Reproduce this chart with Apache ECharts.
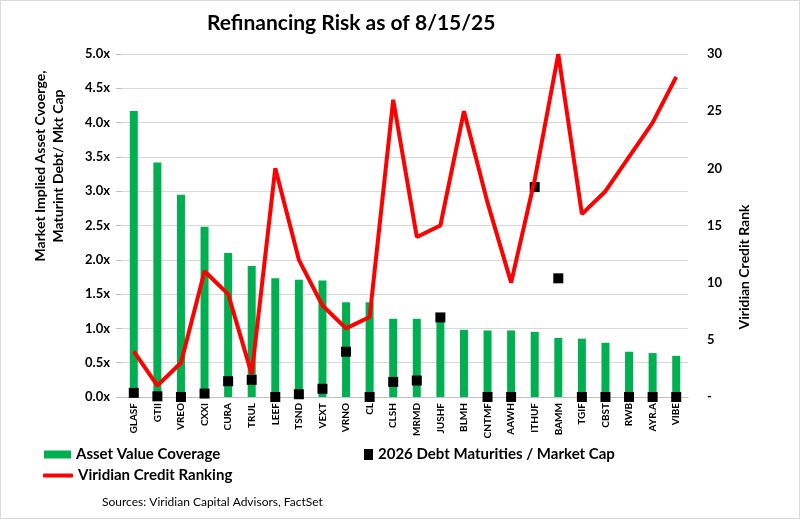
<!DOCTYPE html>
<html><head><meta charset="utf-8">
<script src="https://cdn.jsdelivr.net/npm/echarts@6/dist/echarts.min.js"></script>
<style>html,body{margin:0;padding:0;background:#fff}#c{width:800px;height:519px}</style>
</head><body><div id="c"></div>
<script>
const categories = ['GLASF','GTII','VREO','CXXI','CURA','TRUL','LEEF','TSND','VEXT','VRNO','CL','CLSH','MRMD','JUSHF','BLMH','CNTMF','AAWH','ITHUF','BAMM','TGIF','CBST','RWB','AYR.A','VIBE'];
const assetCoverage = [4.17,3.42,2.95,2.48,2.10,1.91,1.73,1.71,1.70,1.38,1.38,1.14,1.14,1.15,0.98,0.97,0.97,0.95,0.86,0.85,0.79,0.66,0.64,0.60];
const debtMaturities = [0.06,0.01,0.0,0.05,0.23,0.25,0.0,0.04,0.12,0.66,0.0,0.22,0.24,1.16,null,0.0,0.0,3.06,1.73,0.0,0.0,0.0,0.0,0.0];
const creditRank = [4,1,3,11,9,2,20,12,8,6,7,26,14,15,25,17,10,19,30,16,18,21,24,28];
const leftTicks = {min:0,max:5,interval:0.5};
const rightTicks = {min:0,max:30,interval:5};

const FONT = 'Lato';
const chart = echarts.init(document.getElementById('c'));
const legendText = {fontFamily:FONT,fontWeight:'bold',fontSize:15,color:'#000'};
chart.setOption({
  animation:false,
  backgroundColor:'#fff',
  title:{text:'Refinancing Risk as of 8/15/25',left:202,top:8,textStyle:{fontFamily:FONT,fontWeight:'bold',fontSize:21,color:'#000'}},
  grid:{left:122,right:112,top:54,bottom:122},
  legend:[
    {data:['Asset Value Coverage'],left:44,top:447,itemWidth:27,itemHeight:8,icon:'rect',itemGap:4,textStyle:legendText,padding:0},
    {data:['2026 Debt Maturities / Market Cap'],left:364,top:447,itemWidth:9,itemHeight:11,icon:'rect',textStyle:legendText,padding:0,itemStyle:{color:'#000',opacity:1}},
    {data:['Viridian Credit Ranking'],left:43,top:468,itemWidth:30,itemHeight:4,icon:'roundRect',textStyle:legendText,padding:0}
  ],
  xAxis:{type:'category',data:categories,
    axisLine:{lineStyle:{color:'#bfbfbf'}},axisTick:{show:false},
    axisLabel:{interval:0,rotate:90,fontFamily:FONT,fontWeight:'bold',fontSize:10,color:'#000',margin:6}},
  yAxis:[
    {type:'value',min:leftTicks.min,max:leftTicks.max,interval:leftTicks.interval,
      axisLine:{show:false},axisTick:{show:true,length:6,lineStyle:{color:'#bfbfbf'}},
      splitLine:{lineStyle:{color:'#d9d9d9'}},
      axisLabel:{formatter:v=>v.toFixed(1)+'x',fontFamily:FONT,fontWeight:'bold',fontSize:13,color:'#000',margin:12}},
    {type:'value',min:rightTicks.min,max:rightTicks.max,interval:rightTicks.interval,
      axisLine:{show:false},axisTick:{show:false},splitLine:{show:false},
      axisLabel:{formatter:v=>v===0?'-':String(v),fontFamily:FONT,fontWeight:'bold',fontSize:13,color:'#000',margin:19}}
  ],
  series:[
    {name:'Asset Value Coverage',type:'bar',data:assetCoverage,barWidth:8,itemStyle:{color:'#00B050'}},
    {name:'2026 Debt Maturities / Market Cap',type:'scatter',data:debtMaturities,symbol:'rect',symbolSize:10,itemStyle:{color:'#000',opacity:1},z:3},
    {name:'Viridian Credit Ranking',type:'line',yAxisIndex:1,data:creditRank,symbol:'none',lineStyle:{color:'#FF0000',width:4},itemStyle:{color:'#FF0000'},z:4}
  ],
  graphic:[
    {type:'rect',shape:{x:0.5,y:0.5,width:799,height:518},style:{fill:'none',stroke:'#d9d9d9',lineWidth:1},silent:true},
    {type:'text',x:40,y:166,rotation:Math.PI/2,style:{text:'Market Implied Asset Cvoerge,',fontFamily:FONT,fontWeight:'bold',fontSize:14,fill:'#000',align:'center',verticalAlign:'middle'}},
    {type:'text',x:58,y:166,rotation:Math.PI/2,style:{text:'Maturint Debt/ Mkt Cap',fontFamily:FONT,fontWeight:'bold',fontSize:14,fill:'#000',align:'center',verticalAlign:'middle'}},
    {type:'text',x:744,y:267,rotation:Math.PI/2,style:{text:'Viridian Credit Rank',fontFamily:FONT,fontWeight:'bold',fontSize:14,fill:'#000',align:'center',verticalAlign:'middle'}},
    {type:'text',x:102,y:502,style:{text:'Sources: Viridian Capital Advisors, FactSet',fontFamily:FONT,fontSize:12,fill:'#000',align:'left',verticalAlign:'middle'}}
  ]
});
</script></body></html>
